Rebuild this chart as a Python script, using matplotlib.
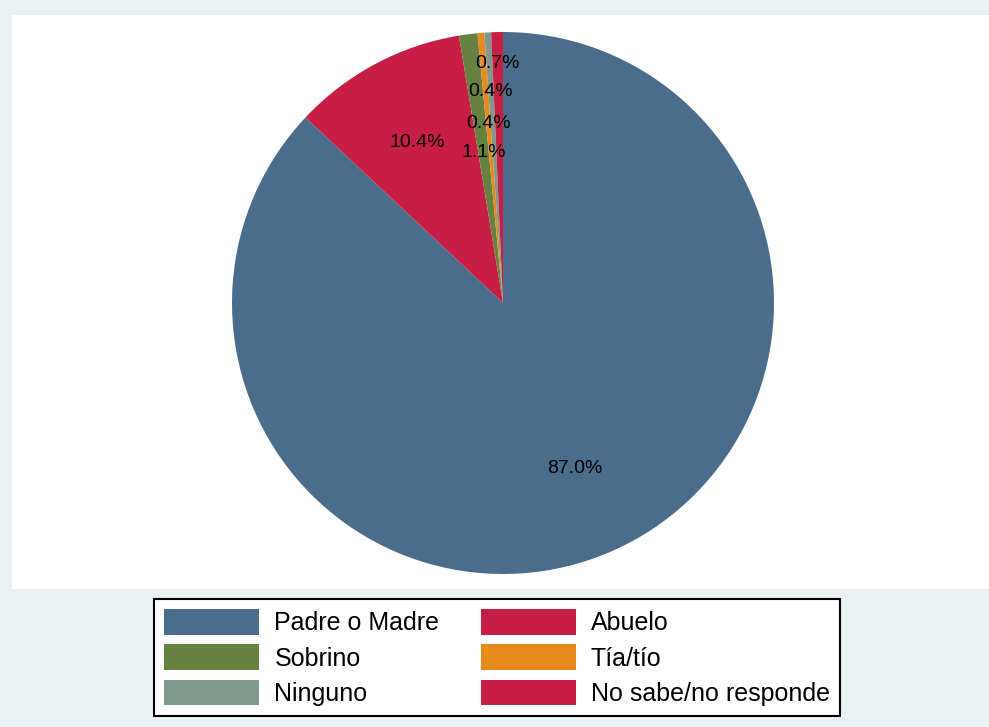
import matplotlib.pyplot as plt
from matplotlib.patches import Patch

plt.rcParams['font.family'] = ['Liberation Sans', 'DejaVu Sans']

categories = ["Padre o Madre", "Abuelo", "Sobrino", "Tía/tío", "Ninguno", "No sabe/no responde"]
shares = [87.0, 10.4, 1.1, 0.4, 0.4, 0.7]
colors = ["#4A6D8C", "#C81E46", "#678140", "#E68A1C", "#80998D", "#C81E46"]
# radial position of each percentage label (fraction of radius), staggered for the thin slices
label_r = [0.665, 0.67, 0.56, 0.665, 0.78, 0.885]

fig = plt.figure(figsize=(9.89, 7.27), dpi=100, facecolor="#E9F1F3")

# white plot region behind the pie
bg = fig.add_axes([12 / 989, 1 - 589 / 727, 1 - 12 / 989, (589 - 15) / 727], zorder=0)
bg.set_facecolor("white")
bg.set_xticks([])
bg.set_yticks([])
for s in bg.spines.values():
    s.set_visible(False)

ax = fig.add_axes([(503 - 271) / 989, (727 - 303 - 271) / 727, 542 / 989, 542 / 727], zorder=1)
wedges, texts, autotexts = ax.pie(
    shares, colors=colors, startangle=90, counterclock=False,
    autopct="%.1f%%", pctdistance=1.0,
    wedgeprops=dict(linewidth=0),
    textprops=dict(fontsize=14, color="black"))
for t, f in zip(autotexts, label_r):
    x, y = t.get_position()
    t.set_position((x * f, y * f))
ax.set_xlim(-1, 1)
ax.set_ylim(-1, 1)
ax.set_aspect("equal")
ax.axis("off")

handles = [Patch(facecolor=c, edgecolor="none") for c in colors]
# order so that the two-column legend reads row by row
order = [0, 2, 4, 1, 3, 5]
leg = fig.legend([handles[i] for i in order], [categories[i] for i in order],
                 loc="center", bbox_to_anchor=(497 / 989, 1 - 657.5 / 727),
                 ncol=2, fontsize=18, frameon=True, fancybox=False, framealpha=1,
                 handlelength=3.8, handleheight=1.2, handletextpad=0.6,
                 columnspacing=1.65, labelspacing=0.36, borderpad=0.42)
leg.get_frame().set_edgecolor("black")
leg.get_frame().set_linewidth(1.5)
leg.get_frame().set_facecolor("white")

fig.savefig("out.png", dpi=100, facecolor=fig.get_facecolor())
